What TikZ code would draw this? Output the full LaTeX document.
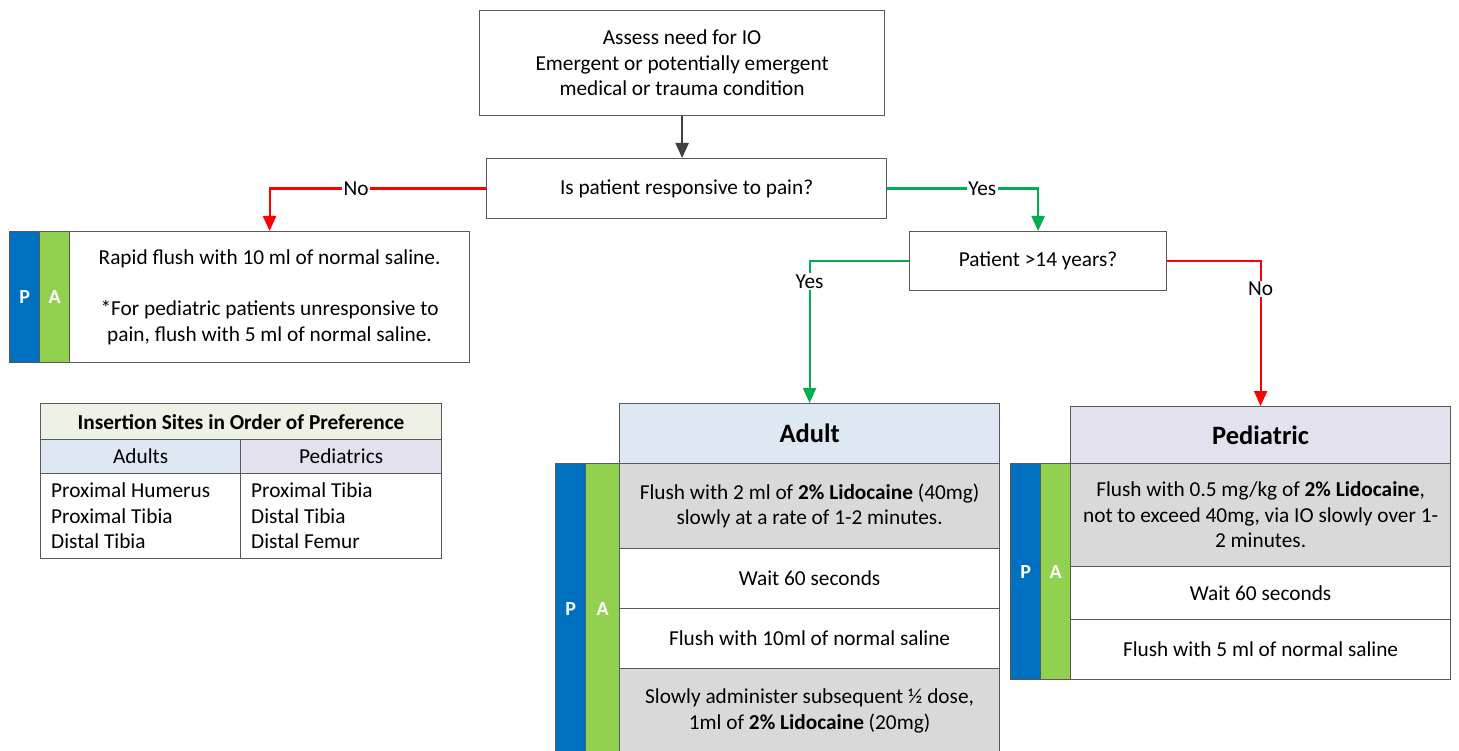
\documentclass[tikz,border=0pt]{standalone}
\usepackage{fontspec}
\setmainfont{Carlito}
\usetikzlibrary{arrows.meta}
\definecolor{pblue}{HTML}{0070C0}
\definecolor{agreen}{HTML}{92D050}
\definecolor{bord}{HTML}{595959}
\definecolor{graycell}{HTML}{D9D9D9}
\definecolor{adultfill}{HTML}{DEE8F2}
\definecolor{pedfill}{HTML}{E4E1EE}
\definecolor{headfill}{HTML}{EEF1E6}
\definecolor{redline}{HTML}{FF0000}
\definecolor{greenline}{HTML}{00B050}
\definecolor{darkline}{HTML}{404040}
\begin{document}
\begin{tikzpicture}[x=1pt,y=-1pt,
  font=\fontsize{21.3}{25.5}\selectfont,
  cell/.style={draw=bord, line width=1.2pt, anchor=north west, inner sep=0pt, align=center},
  pstrip/.style={cell, fill=pblue, minimum width=30, text=white, font=\fontsize{20}{22}\selectfont\bfseries},
  astrip/.style={cell, fill=agreen, minimum width=30, text=white, font=\fontsize{20}{22}\selectfont\bfseries},
  conn/.style={line width=2.2pt, -{Triangle[length=15pt,width=13pt]}},
  lbl/.style={fill=white, text=black, inner sep=1.5pt, font=\fontsize{21.3}{24}\selectfont},
  headtxt/.style={font=\fontsize{26.5}{30}\selectfont\bfseries}]
\useasboundingbox (0,0) rectangle (1459,751);

% top flow
\node[cell, minimum width=405, minimum height=105] (assess) at (479,10)
  {Assess need for IO\\Emergent or potentially emergent\\medical or trauma condition};
\node[cell, minimum width=400, minimum height=60] (resp) at (486,158)
  {Is patient responsive to pain?};
\node[cell, minimum width=257, minimum height=59] (age) at (909,231)
  {Patient >14 years?};

% left result
\node[pstrip, minimum height=131] (lp) at (9,231) {P};
\node[astrip, minimum height=131] (la) at (39,231) {A};
\node[cell, minimum width=400, minimum height=131] (rapid) at (69,231)
  {Rapid flush with 10 ml of normal saline.\\[25.5pt]*For pediatric patients unresponsive to\\pain, flush with 5 ml of normal saline.};

% table
\node[cell, fill=headfill, minimum width=401, minimum height=36, font=\fontsize{21.3}{24}\selectfont\bfseries] (thead) at (40,403)
  {Insertion Sites in Order of Preference};
\node[cell, fill=adultfill, minimum width=200, minimum height=34] (tadult) at (40,439) {Adults};
\node[cell, fill=pedfill, minimum width=201, minimum height=34] (tped) at (240,439) {Pediatrics};
\node[cell, minimum width=200, minimum height=85] (tbodya) at (40,473) {};
\node[cell, minimum width=201, minimum height=85] (tbodyp) at (240,473) {};
\node[anchor=west, align=left, inner sep=0pt] (sitesa) at ([xshift=11pt]tbodya.west)
  {Proximal Humerus\\Proximal Tibia\\Distal Tibia};
\node[anchor=west, align=left, inner sep=0pt] (sitesp) at ([xshift=11pt]tbodyp.west)
  {Proximal Tibia\\Distal Tibia\\Distal Femur};

% adult panel
\node[cell, fill=adultfill, minimum width=380, minimum height=60, headtxt] (adulthead) at (619,403) {Adult};
\node[pstrip, minimum height=290] (ap) at (555,463) {P};
\node[astrip, minimum height=290, minimum width=34] (aa) at (585,463) {A};
\node[cell, fill=graycell, minimum width=380, minimum height=85] (a1) at (619,463)
  {Flush with 2 ml of \textbf{2\% Lidocaine} (40mg)\\slowly at a rate of 1-2 minutes.};
\node[cell, fill=white, minimum width=380, minimum height=60] (a2) at (619,548) {Wait 60 seconds};
\node[cell, fill=white, minimum width=380, minimum height=60] (a3) at (619,608) {Flush with 10ml of normal saline};
\node[cell, fill=graycell, minimum width=380, minimum height=85] (a4) at (619,668)
  {Slowly administer subsequent ½ dose,\\1ml of \textbf{2\% Lidocaine} (20mg)};

% pediatric panel
\node[cell, fill=pedfill, minimum width=380, minimum height=57, headtxt] (pedhead) at (1070,406) {Pediatric};
\node[pstrip, minimum height=216] (pp) at (1010,463) {P};
\node[astrip, minimum height=216] (pa) at (1040,463) {A};
\node[cell, fill=graycell, minimum width=380, minimum height=103] (p1) at (1070,463)
  {Flush with 0.5 mg/kg of \textbf{2\% Lidocaine},\\not to exceed 40mg, via IO slowly over 1-\\2 minutes.};
\node[cell, fill=white, minimum width=380, minimum height=53] (p2) at (1070,566) {Wait 60 seconds};
\node[cell, fill=white, minimum width=380, minimum height=60] (p3) at (1070,619) {Flush with 5 ml of normal saline};

% connectors
\draw[conn, darkline] (assess.south) -- (assess.south |- resp.north);
\draw[conn, redline] (resp.west) -| node[lbl, pos=0.3] {No} (rapid.north);
\draw[conn, greenline] (resp.east) -| node[lbl, pos=0.315] {Yes} (age.north);
\draw[conn, greenline] (age.west) -| node[lbl, pos=0.573] {Yes} (adulthead.north);
\draw[conn, redline] (age.east) -| node[lbl, pos=0.596] {No} (pedhead.north);
\end{tikzpicture}
\end{document}
